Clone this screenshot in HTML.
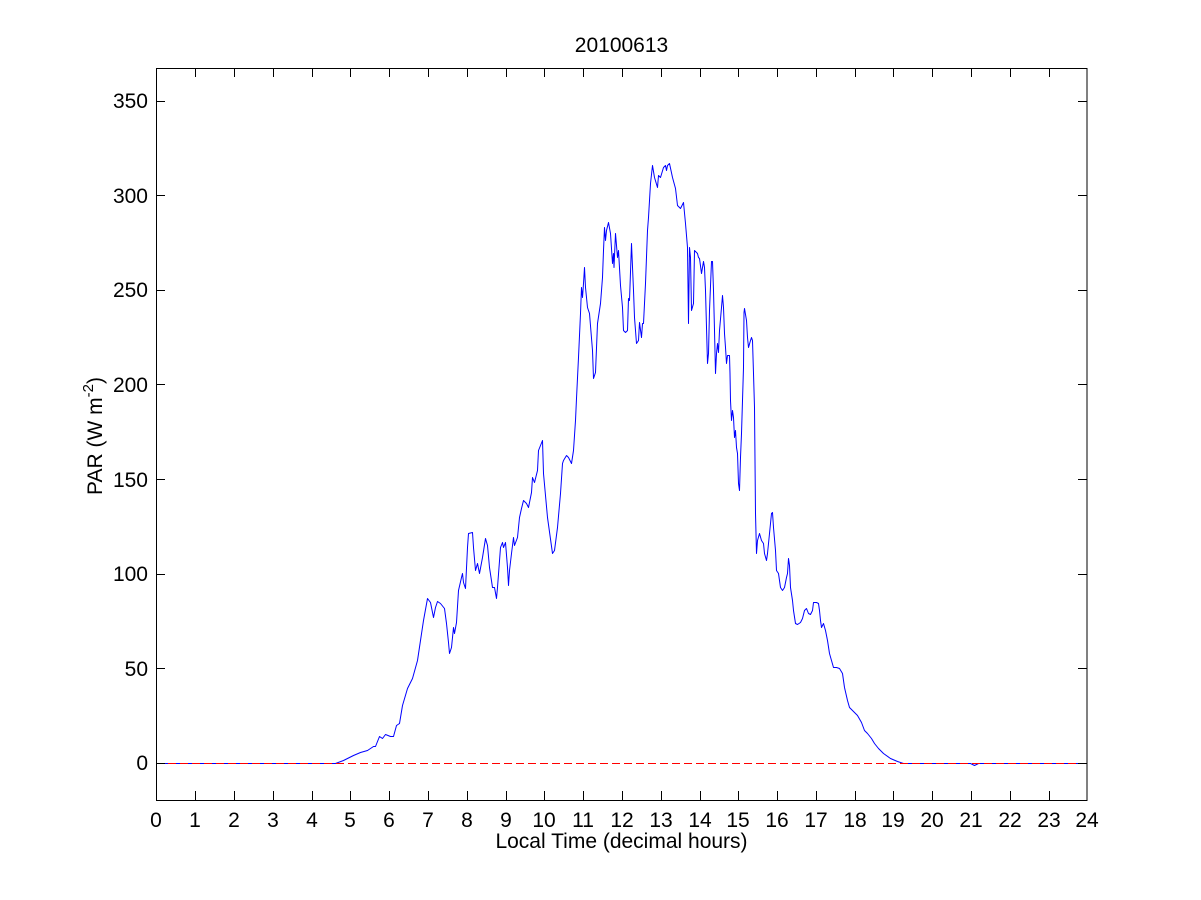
<!DOCTYPE html>
<html><head><meta charset="utf-8"><style>
html,body{margin:0;padding:0;background:#fff;}
svg{display:block;}
text{font-family:"Liberation Sans",Arial,sans-serif;font-size:21px;fill:#000;}
</style></head><body>
<svg width="1201" height="900" viewBox="0 0 1201 900" xmlns="http://www.w3.org/2000/svg">
<rect x="0" y="0" width="1201" height="900" fill="#fff"/>
<text x="621.5" y="52" text-anchor="middle">20100613</text>
<polyline transform="translate(0.5,0.5)" fill="none" stroke="#0000ff" stroke-width="1" stroke-linejoin="round" points="156,763 335,763 343,760 353,755 360,752 367,750 373,746 375,746 379,736 382,738 385,734 390,736 393,736 396,725 399,723 402,705 407,688 412,678 417,660 420,640 423,620 427,598 430,602 433,617 435,607 437,601 440,603 444,608 446,623 448,642 449,653 451,647 453,627 454,633 456,622 458,590 461,577 462,573 463,582 465,588 467,547 468,533 472,532 473,547 475,570 477,563 479,573 482,557 485,538 487,545 489,567 492,587 494,587 496,598 497,587 500,547 502,542 503,547 505,542 507,567 508,585 509,570 511,553 513,537 514,545 517,537 519,517 521,508 523,500 526,503 528,507 531,492 532,477 534,482 537,470 538,450 540,445 542,440 543,473 547,517 552,553 554,550 557,527 560,493 562,463 563,460 566,455 568,457 571,463 573,450 575,420 576,398 578,357 580,313 581,287 582,297 583,283 584,267 585,287 587,307 589,313 592,350 593,378 595,372 597,323 600,303 602,277 603,250 604,227 605,240 606,230 608,222 610,233 612,263 613,253 613.5,267 615,233 617,257 618,250 620,285 622,307 623,330 625,332 627,330 628,298 629,300 631,243 633,290 634,317 636,343 638,340 639,322 641,337 642,323 643,323 645,283 647,230 648,217 650,183 652,165 654,177 657,187 658,175 660,177 663,167 665,165 666,170 667,165 669,163 672,177 675,188 677,205 680,208 683,202 685,223 687,247 688,323 689,247 690,257 691,310 693,303 694,250 697,253 698,257 699,258 701,273 703,261 704,267 705,290 706,327 707,363 708,353 709,310 711,261 712,261 713,290 714,330 715,373 716,353 717,343 718,352 719,330 721,307 722,295 723,307 724,333 725,347 726,363 727,355 729,355 729.5,373 730,400 731,420 732,410 733,417 734,437 735,430 736,447 737,453 738,483 739,490 740,457 741,433 742,400 743,367 743.5,312 744,308 746,320 747,337 748,347 750,340 751,337 752,340 753,373 754,407 755,513 756,553 757,540 759,533 761,540 763,543 764,553 766,560 767,553 769,533 771,513 772,512 773,527 775,550 776,570 778,573 780,587 782,590 784,587 786,577 787,573 788,558 789,565 790,587 792,600 793,610 795,623 797,624 800,622 802,618 804,610 806,608 808,613 810,614 812,610 813,602 816,602 818,603 819,610 820,620 821,627 823,623 825,630 827,640 829,653 831,660 833,667 836,667 839,668 842,673 844,687 847,700 849,707 853,711 857,715 861,722 864,730 867,733 871,738 874,743 878,748 883,753 890,758 897,761 903,763 912,763 970,763 974,765 978,763 1087,763"/>
<line x1="156" y1="763.5" x2="1087" y2="763.5" stroke="#ff0000" stroke-width="1" stroke-dasharray="8 4"/>
<rect x="156.5" y="68.5" width="930.5" height="732" fill="none" stroke="#000" stroke-width="1"/>
<g stroke="#000" stroke-width="1">
<path d="M195.5,800V791M195.5,68V77M234.5,800V791M234.5,68V77M273.5,800V791M273.5,68V77M312.5,800V791M312.5,68V77M350.5,800V791M350.5,68V77M389.5,800V791M389.5,68V77M428.5,800V791M428.5,68V77M467.5,800V791M467.5,68V77M506.5,800V791M506.5,68V77M544.5,800V791M544.5,68V77M583.5,800V791M583.5,68V77M622.5,800V791M622.5,68V77M661.5,800V791M661.5,68V77M700.5,800V791M700.5,68V77M738.5,800V791M738.5,68V77M777.5,800V791M777.5,68V77M816.5,800V791M816.5,68V77M855.5,800V791M855.5,68V77M893.5,800V791M893.5,68V77M932.5,800V791M932.5,68V77M971.5,800V791M971.5,68V77M1010.5,800V791M1010.5,68V77M1049.5,800V791M1049.5,68V77"/>
<path d="M156,763.5H165M1087,763.5H1078M156,668.5H165M1087,668.5H1078M156,574.5H165M1087,574.5H1078M156,479.5H165M1087,479.5H1078M156,384.5H165M1087,384.5H1078M156,290.5H165M1087,290.5H1078M156,195.5H165M1087,195.5H1078M156,101.5H165M1087,101.5H1078"/>
</g>
<g text-anchor="middle">
<text x="156" y="827">0</text><text x="195" y="827">1</text><text x="234" y="827">2</text><text x="273" y="827">3</text><text x="312" y="827">4</text><text x="350" y="827">5</text><text x="389" y="827">6</text><text x="428" y="827">7</text><text x="467" y="827">8</text><text x="506" y="827">9</text><text x="544" y="827">10</text><text x="583" y="827">11</text><text x="622" y="827">12</text><text x="661" y="827">13</text><text x="700" y="827">14</text><text x="738" y="827">15</text><text x="777" y="827">16</text><text x="816" y="827">17</text><text x="855" y="827">18</text><text x="893" y="827">19</text><text x="932" y="827">20</text><text x="971" y="827">21</text><text x="1010" y="827">22</text><text x="1049" y="827">23</text><text x="1087" y="827">24</text>
</g>
<g text-anchor="end">
<text x="148" y="770">0</text><text x="148" y="676">50</text><text x="148" y="581">100</text><text x="148" y="487">150</text><text x="148" y="392">200</text><text x="148" y="297">250</text><text x="148" y="203">300</text><text x="148" y="108">350</text>
</g>
<text x="621.5" y="848" text-anchor="middle">Local Time (decimal hours)</text>
<text transform="translate(102,436) rotate(-90)" text-anchor="middle">PAR (W m<tspan font-size="15" dy="-9">-2</tspan><tspan dy="9">)</tspan></text>
</svg>
</body></html>
